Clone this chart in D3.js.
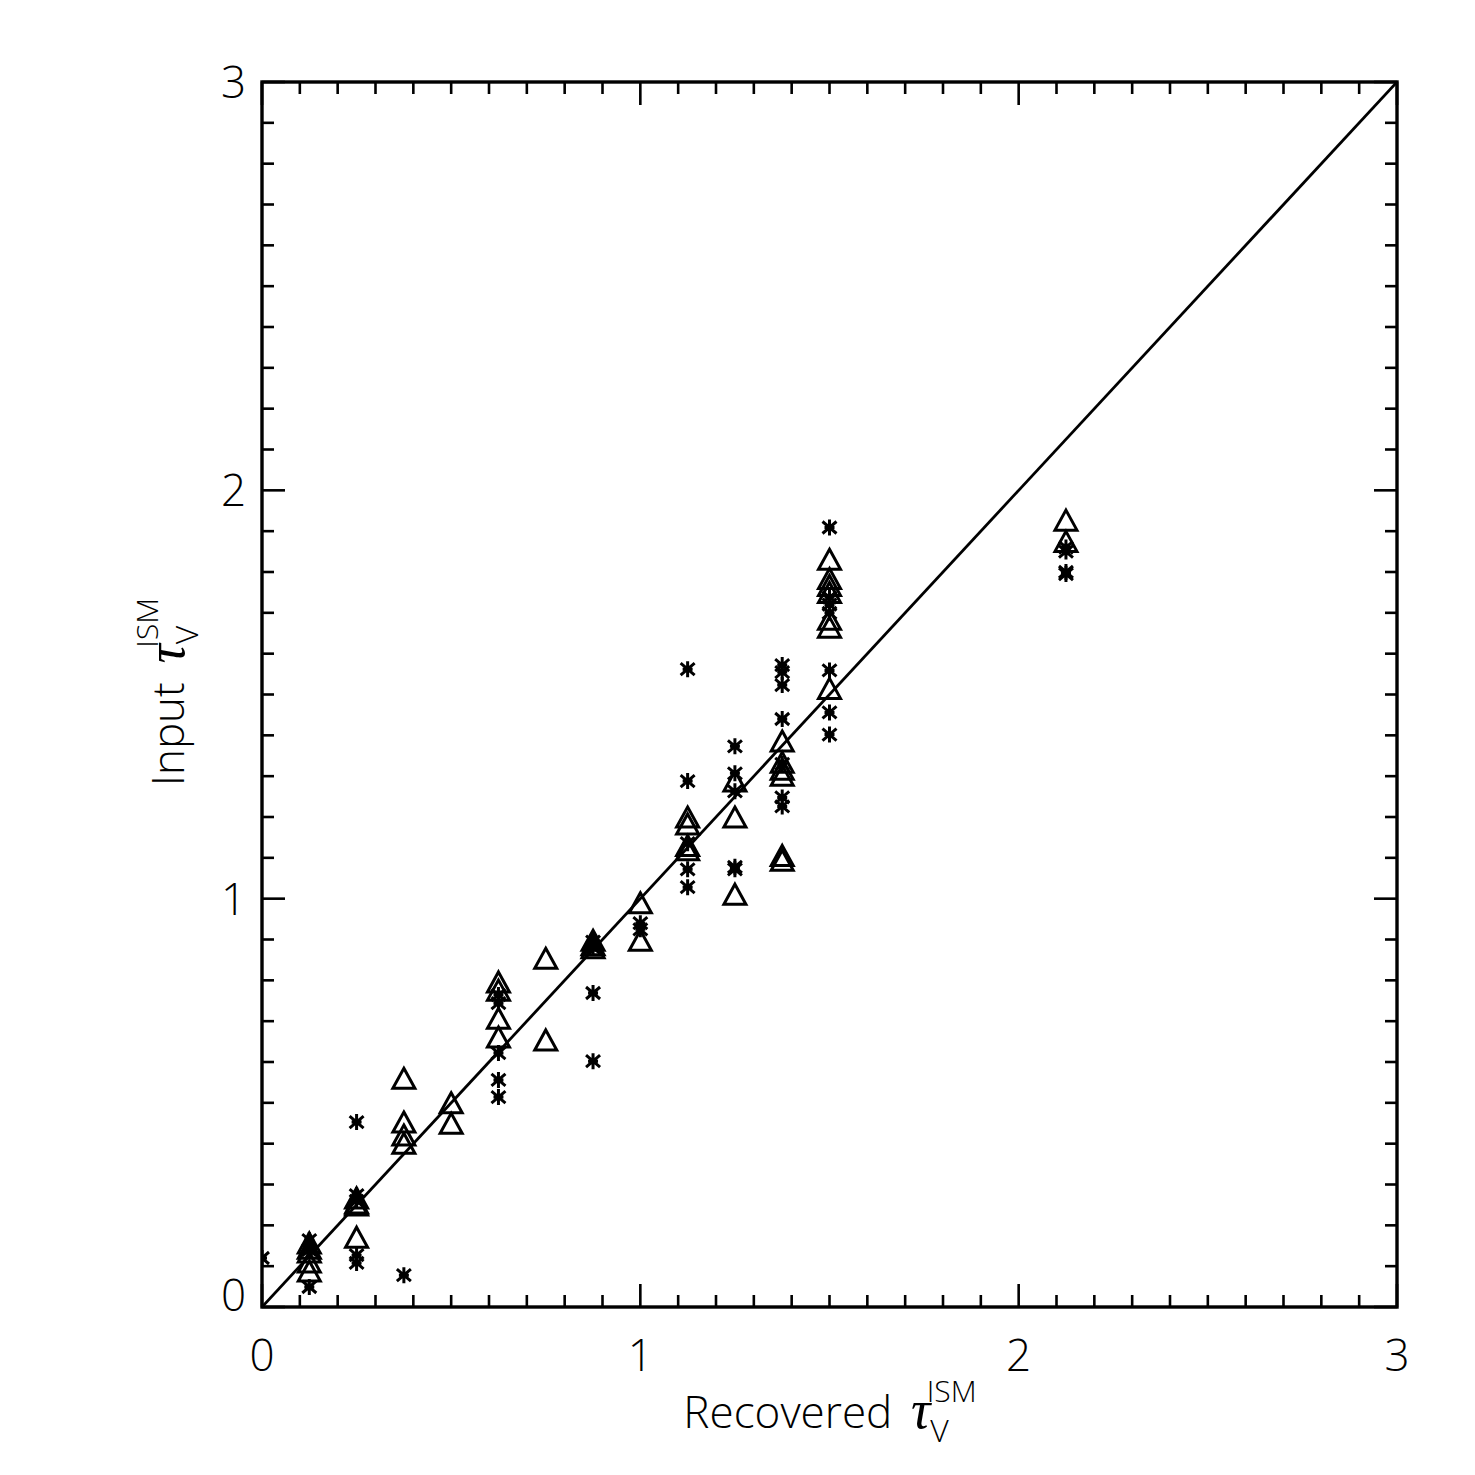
<!DOCTYPE html>
<html>
<head>
<meta charset="utf-8">
<script src="https://cdn.jsdelivr.net/npm/d3@7"></script>
<style>
  body { margin: 0; background: #fff; }
  text { font-family: "Open Sans", "DejaVu Sans", sans-serif; font-weight: 300; fill: #000; }
</style>
</head>
<body>
<div id="chart"></div>
<script>
// recovered tau (x) and input tau (y)
var triX = [0.125, 0.125, 0.125, 0.125, 0.125,
            0.25, 0.25, 0.25, 0.25,
            0.375, 0.375, 0.375, 0.375,
            0.5, 0.5,
            0.625, 0.625, 0.625, 0.625,
            0.75, 0.75,
            0.875, 0.875, 0.875,
            1.0, 1.0,
            1.125, 1.125, 1.125, 1.125,
            1.25, 1.25, 1.25,
            1.375, 1.375, 1.375, 1.375, 1.375, 1.375,
            1.5, 1.5, 1.5, 1.5, 1.5, 1.5, 1.5,
            2.125, 2.125];
var triY = [0.157, 0.144, 0.135, 0.11, 0.088,
            0.267, 0.255, 0.25, 0.171,
            0.56, 0.453, 0.421, 0.401,
            0.5, 0.45,
            0.796, 0.776, 0.707, 0.661,
            0.854, 0.654,
            0.898, 0.887, 0.88,
            0.99, 0.898,
            1.2, 1.183, 1.13, 1.12,
            1.288, 1.2, 1.011,
            1.386, 1.334, 1.317, 1.302, 1.106, 1.094,
            1.831, 1.784, 1.767, 1.75, 1.684, 1.665, 1.515,
            1.927, 1.875];

var starX = [0.0,
             0.125, 0.125, 0.125,
             0.25, 0.25, 0.25, 0.25, 0.25,
             0.375,
             0.625, 0.625, 0.625, 0.625, 0.625,
             0.875, 0.875, 0.875, 0.875,
             1.0, 1.0,
             1.125, 1.125, 1.125, 1.125, 1.125,
             1.25, 1.25, 1.25, 1.25, 1.25,
             1.375, 1.375, 1.375, 1.375, 1.375, 1.375, 1.375,
             1.5, 1.5, 1.5, 1.5, 1.5, 1.5, 1.5,
             2.125, 2.125, 2.125, 2.125];
var starY = [0.12,
             0.164, 0.14, 0.049,
             0.274, 0.26, 0.453, 0.127, 0.108,
             0.078,
             0.764, 0.744, 0.622, 0.556, 0.514,
             0.895, 0.88, 0.769, 0.602,
             0.94, 0.925,
             1.562, 1.288, 1.136, 1.072, 1.028,
             1.373, 1.307, 1.263, 1.078, 1.072,
             1.572, 1.555, 1.523, 1.44, 1.33, 1.248, 1.226,
             1.909, 1.738, 1.72, 1.70, 1.559, 1.456, 1.402,
             1.86, 1.85, 1.80, 1.795];

var majorTicks = [0, 1, 2, 3];
var tickLabels = ["0", "1", "2", "3"];

var W = 1475, H = 1475;
var margin = {top: 82, right: 78, bottom: 168, left: 262},
    width = W - margin.left - margin.right,
    height = H - margin.top - margin.bottom;

var x = d3.scaleLinear().domain([0, 3]).range([0, width]);
var y = d3.scaleLinear().domain([0, 3]).range([height, 0]);

var svg = d3.select("#chart").append("svg")
    .attr("width", W).attr("height", H);

var g = svg.append("g")
    .attr("transform", "translate(" + margin.left + "," + margin.top + ")");

g.append("clipPath").attr("id", "clip")
  .append("rect").attr("width", width).attr("height", height);

var minor = d3.range(0, 3.0001, 0.1);

// ticks on all four sides, pointing inward
function ticks(sel, orient) {
  minor.forEach(function(v) {
    var isMajor = Math.abs(v - Math.round(v)) < 1e-6;
    var len = isMajor ? 23 : 12;
    if (orient === "bottom") sel.append("line").attr("x1", x(v)).attr("x2", x(v)).attr("y1", height).attr("y2", height - len);
    if (orient === "top") sel.append("line").attr("x1", x(v)).attr("x2", x(v)).attr("y1", 0).attr("y2", len);
    if (orient === "left") sel.append("line").attr("y1", y(v)).attr("y2", y(v)).attr("x1", 0).attr("x2", len);
    if (orient === "right") sel.append("line").attr("y1", y(v)).attr("y2", y(v)).attr("x1", width).attr("x2", width - len);
  });
}
var tg = g.append("g").attr("stroke", "#000").attr("stroke-width", 2.6);
["bottom", "top", "left", "right"].forEach(function(o) { ticks(tg, o); });

g.append("rect")
  .attr("width", width).attr("height", height)
  .attr("fill", "none").attr("stroke", "#000").attr("stroke-width", 3.4);

// tick labels
g.selectAll(".xl").data(majorTicks).enter().append("text")
  .attr("x", function(d) { return x(d); })
  .attr("y", height + 64)
  .attr("text-anchor", "middle")
  .attr("font-size", 44)
  .text(function(d, i) { return tickLabels[i]; });

g.selectAll(".yl").data(majorTicks).enter().append("text")
  .attr("x", -16)
  .attr("y", function(d) { return y(d) + (d === 0 ? 4 : 16); })
  .attr("text-anchor", "end")
  .attr("font-size", 44)
  .text(function(d, i) { return tickLabels[i]; });

// one-to-one line
var plot = g.append("g").attr("clip-path", "url(#clip)");
plot.append("path")
  .datum([0, 3])
  .attr("d", d3.line().x(function(d) { return x(d); }).y(function(d) { return y(d); }))
  .attr("stroke", "#000").attr("stroke-width", 2.8).attr("fill", "none");

// triangles
plot.selectAll(".tri").data(d3.range(triX.length)).enter().append("path")
  .attr("transform", function(i) { return "translate(" + x(triX[i]) + "," + y(triY[i]) + ")"; })
  .attr("d", "M0,-10L11,10L-11,10Z")
  .attr("fill", "none").attr("stroke", "#000").attr("stroke-width", 3);

// asterisks
plot.selectAll(".star").data(d3.range(starX.length)).enter().append("path")
  .attr("transform", function(i) { return "translate(" + x(starX[i]) + "," + y(starY[i]) + ")"; })
  .attr("d", "M0,-8V8M-7,-6L7,6M-7,6L7,-6M-5,0H5")
  .attr("fill", "none").attr("stroke", "#000").attr("stroke-width", 3);

// axis titles
function title(t, label) {
  t.append("tspan").text(label + "\u2009");
  t.append("tspan").attr("font-style", "italic").attr("font-family", "Liberation Serif")
    .attr("font-weight", 400).attr("font-size", 54).text("τ");
  t.append("tspan").attr("font-size", 32).attr("dy", 14).text("V");
  t.append("tspan").attr("font-size", 30).attr("dx", -22).attr("dy", -40).text("ISM");
}

title(svg.append("text")
  .attr("x", 830).attr("y", 1428)
  .attr("text-anchor", "middle")
  .attr("font-size", 44), "Recovered ");

title(svg.append("text")
  .attr("transform", "translate(184,692) rotate(-90)")
  .attr("text-anchor", "middle")
  .attr("font-size", 44), "Input ");
</script>
</body>
</html>
